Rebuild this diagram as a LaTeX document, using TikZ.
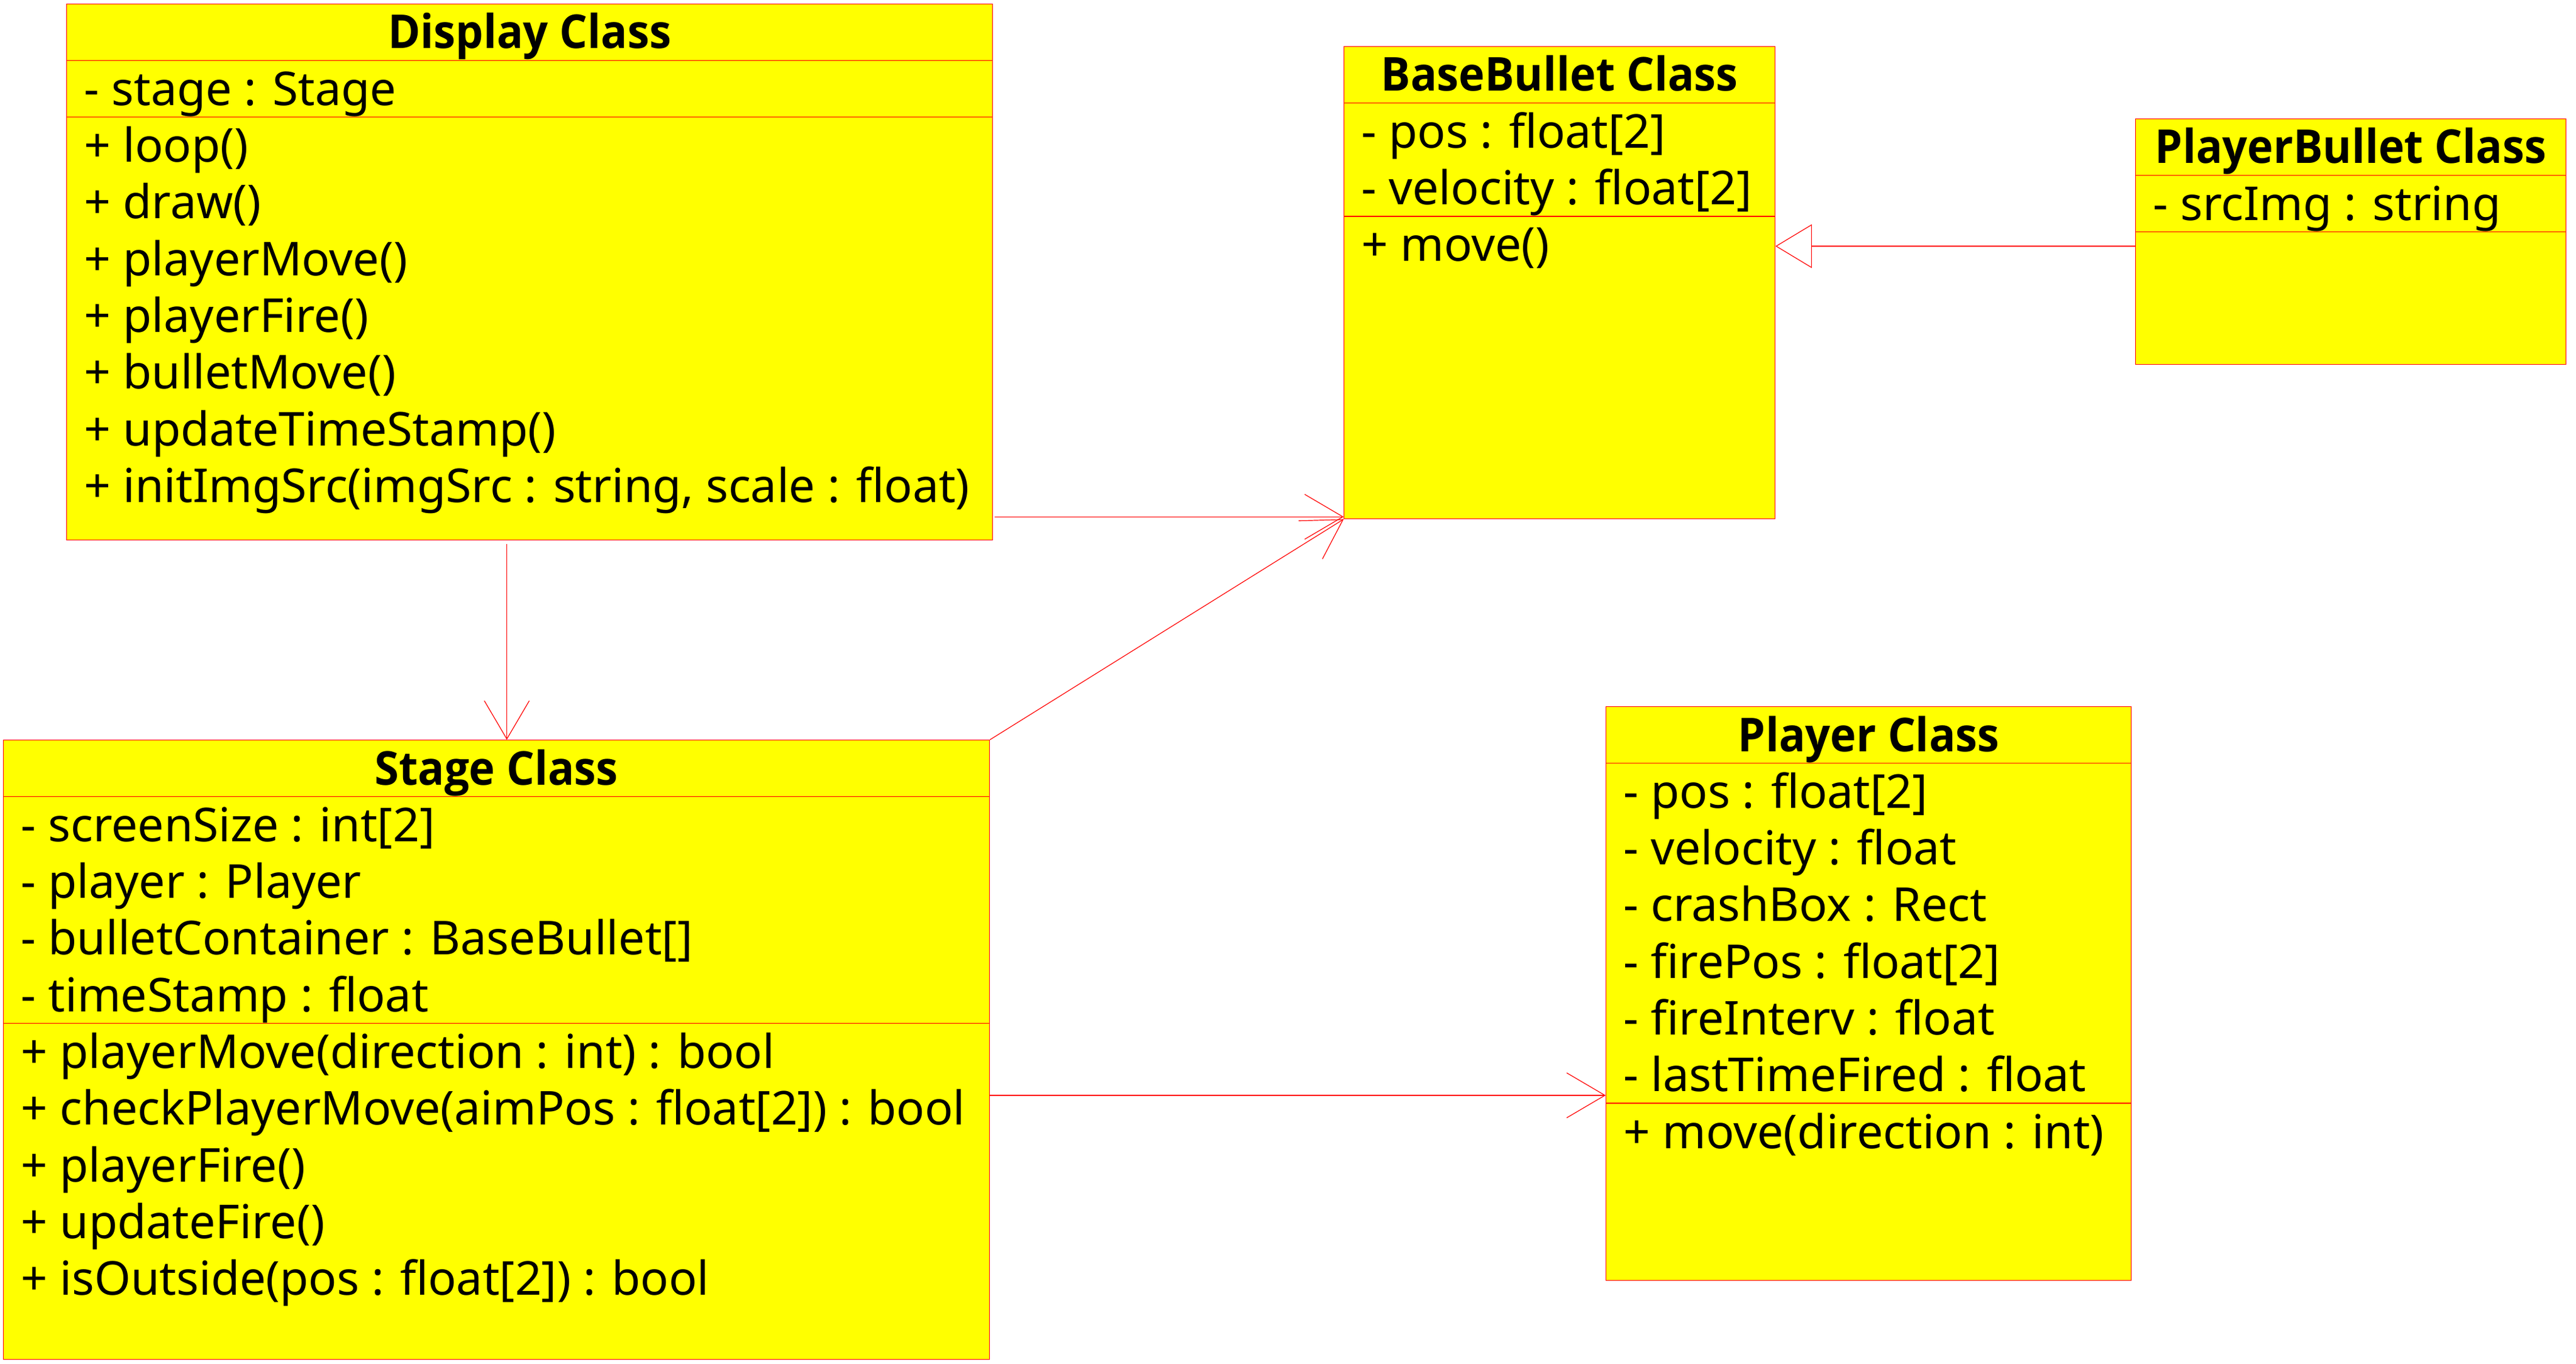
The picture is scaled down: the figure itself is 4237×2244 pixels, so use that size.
\documentclass[tikz,border=0pt]{standalone}
\usepackage{fontspec}
\setmainfont{Noto Sans}
\newfontfamily\titlefont{Open Sans}[FakeStretch=0.94]
\usetikzlibrary{calc}
\usetikzlibrary{arrows.meta}
\definecolor{umlyellow}{HTML}{FFFF00}
\definecolor{umlred}{HTML}{FF0000}
% one text node per member line, rows of 93.3 units
\newcommand{\umlrows}[4]{%
  \foreach \txt [count=\k] in {#4}
    \node[member] (#1#2\k) at ($(#1.north west)+(29,{#3+74+93.3*(\k-1)})$) {\txt};}
\newcommand{\umlsep}[2]{%
  \draw[sep] ($(#1.north west)+(0,#2)$) -- ($(#1.north east)+(0,#2)$);}

\begin{document}
\begin{tikzpicture}[x=0.25pt,y=-0.25pt,
		umlbox/.style={draw=umlred,fill=umlyellow,line width=0.3pt,inner sep=0pt,anchor=north west},
		member/.style={anchor=base west,inner sep=0pt,font=\fontsize{19.2}{23.3}\selectfont},
		classname/.style={anchor=base,inner sep=0pt,font=\titlefont\fontsize{19.2}{23.3}\selectfont\bfseries},
		sep/.style={draw=umlred,line width=0.3pt},
		assoc/.style={draw=umlred,line width=0.3pt,-{Straight Barb[length=15.75pt,width=18.5pt]}},
		inherit/.style={draw=umlred,line width=0.3pt,-{Triangle[open,length=15pt,width=18pt]}}]
		\useasboundingbox (0,0) rectangle (4237,2244);
		
		% class boxes
		\node[umlbox,minimum width=380.75pt,minimum height=220.5pt] (display) at (109,6) {};
		\node[umlbox,minimum width=177.25pt,minimum height=194.25pt] (bb) at (2210,76) {};
		\node[umlbox,minimum width=177pt,minimum height=101pt] (pb) at (3512,195) {};
		\node[umlbox,minimum width=405.5pt,minimum height=254.75pt] (stage) at (5,1217) {};
		\node[umlbox,minimum width=216pt,minimum height=236pt] (player) at (2641,1162) {};
		
		% Display
		\node[classname] (displayname) at ($(display.north)+(0,74)$) {Display Class};
		\umlsep{display}{93.3}
		\umlsep{display}{186.6}
		\umlrows{display}{a}{93.3}{- stage : Stage}
		\umlrows{display}{m}{186.6}{+ loop(), + draw(), + playerMove(), + playerFire(), + bulletMove(),
			+ updateTimeStamp(), {+ initImgSrc(imgSrc : string, scale : float)}}
		
		% BaseBullet
		\node[classname] (bbname) at ($(bb.north)+(0,74)$) {BaseBullet Class};
		\umlsep{bb}{93.3}
		\umlsep{bb}{280}
		\umlrows{bb}{a}{93.3}{- pos : float[2], - velocity : float[2]}
		\umlrows{bb}{m}{280}{+ move()}
		
		% PlayerBullet
		\node[classname] (pbname) at ($(pb.north)+(0,74)$) {PlayerBullet Class};
		\umlsep{pb}{93.3}
		\umlsep{pb}{186.6}
		\umlrows{pb}{a}{93.3}{- srcImg : string}
		
		% Stage
		\node[classname] (stagename) at ($(stage.north)+(0,74)$) {Stage Class};
		\umlsep{stage}{93.3}
		\umlsep{stage}{466.5}
		\umlrows{stage}{a}{93.3}{- screenSize : int[2], - player : Player,
			- bulletContainer : BaseBullet[], - timeStamp : float}
		\umlrows{stage}{m}{466.5}{+ playerMove(direction : int) : bool,
			+ checkPlayerMove(aimPos : float[2]) : bool, + playerFire(), + updateFire(),
			+ isOutside(pos : float[2]) : bool}
		
		% Player
		\node[classname] (playername) at ($(player.north)+(0,74)$) {Player Class};
		\umlsep{player}{93.3}
		\umlsep{player}{653}
		\umlrows{player}{a}{93.3}{- pos : float[2], - velocity : float, - crashBox : Rect,
			- firePos : float[2], - fireInterv : float, - lastTimeFired : float}
		\umlrows{player}{m}{653}{+ move(direction : int)}
		
		% relations
		\coordinate (gen) at ($(bb.north east)+(0,329)$);
		\coordinate (sp) at ($(player.north west)+(0,640)$);
		\draw[inherit] (pb.west |- gen) -- (gen);
		\draw[assoc] ($(display.east |- bb.south west)+(3,-4)$) -- ($(bb.south west)+(0,-4)$);
		\draw[assoc] (stage.north east) -- (bb.south west);
		\draw[assoc] ($(display.south -| stage.north)+(17,6)$) -- ($(stage.north)+(17,0)$);
		\draw[assoc] (stage.east |- sp) -- (sp);
\end{tikzpicture}
\end{document}
